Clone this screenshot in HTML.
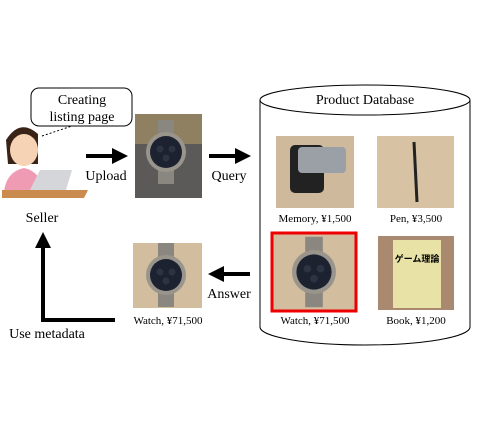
<!DOCTYPE html>
<html><head><meta charset="utf-8"><style>
body{margin:0;width:480px;height:426px;background:#fff;overflow:hidden;font-family:"Liberation Serif","Noto Serif CJK SC",serif;}
</style></head><body>
<svg width="480" height="426" viewBox="0 0 480 426" xmlns="http://www.w3.org/2000/svg" font-family="Liberation Serif, serif">
<defs>
<marker id="ah" markerWidth="4" markerHeight="4" refX="2" refY="2" orient="auto" markerUnits="strokeWidth"><path d="M0,0 L4,2 L0,4Z" fill="#000"/></marker>
<g id="watch">
 <rect x="-8" y="-32" width="16" height="64" fill="#8a8680"/>
 <circle r="20" fill="#9a958c"/><circle r="16" fill="#1c2230"/>
 <circle cx="-6" cy="-3" r="3.5" fill="#2c3342"/><circle cx="6" cy="-3" r="3.5" fill="#2c3342"/><circle cx="0" cy="6" r="3.5" fill="#2c3342"/>
</g>
</defs>
<!-- speech bubble -->
<rect x="31" y="88" width="101" height="38" rx="8" fill="#fff" stroke="#000" stroke-width="1"/>
<line x1="42" y1="136" x2="72" y2="126" stroke="#000" stroke-dasharray="2,2"/>
<text x="82" y="104" font-size="14" text-anchor="middle">Creating</text>
<text x="82" y="121" font-size="14" text-anchor="middle">listing page</text>
<!-- seller -->
<path d="M6,140 q14,-22 32,-6 v30 h-30z" fill="#3a2418"/>
<ellipse cx="24" cy="150" rx="14" ry="16" fill="#f6d3b4"/>
<path d="M4,192 q2,-20 20,-24 q18,4 18,24z" fill="#ef9bb3"/>
<path d="M30,190 l10,-20 h32 l-6,20z" fill="#d4d6da"/>
<path d="M2,190 h86 l-4,8 h-82z" fill="#c98b4e"/>
<text x="42" y="222" font-size="14" text-anchor="middle">Seller</text>
<!-- arrows top -->
<line x1="86" y1="156" x2="120" y2="156" stroke="#000" stroke-width="4" marker-end="url(#ah)"/>
<text x="106" y="180" font-size="14" text-anchor="middle">Upload</text>
<line x1="209" y1="156" x2="243" y2="156" stroke="#000" stroke-width="4" marker-end="url(#ah)"/>
<text x="229" y="180" font-size="14" text-anchor="middle">Query</text>
<!-- uploaded watch -->
<rect x="135" y="114" width="67" height="84" fill="#5b5a58"/>
<rect x="135" y="114" width="67" height="30" fill="#8e8060"/>
<use href="#watch" x="166" y="152"/>
<!-- database -->
<path d="M260,100 V327 A105,18 0 0 0 470,327 V100" fill="#fff" stroke="#000"/>
<ellipse cx="365" cy="100" rx="105" ry="15" fill="#fff" stroke="#000"/>
<text x="365" y="104" font-size="14" text-anchor="middle">Product Database</text>
<!-- memory -->
<rect x="276" y="136" width="78" height="72" fill="#cfb99c"/>
<rect x="290" y="145" width="34" height="48" rx="5" fill="#222"/>
<rect x="298" y="147" width="48" height="26" rx="4" fill="#9aa0a6"/>
<text x="315" y="222" font-size="11" text-anchor="middle">Memory, ¥1,500</text>
<!-- pen -->
<rect x="377" y="136" width="77" height="72" fill="#d7c3a3"/>
<line x1="414" y1="142" x2="417" y2="202" stroke="#222" stroke-width="3"/>
<text x="416" y="222" font-size="11" text-anchor="middle">Pen, ¥3,500</text>
<!-- watch db -->
<rect x="272" y="233" width="84" height="78" fill="#d3bd9f" stroke="#e00" stroke-width="3"/>
<use href="#watch" x="314" y="272" transform="translate(314,272) scale(1.1) translate(-314,-272)"/>
<text x="315" y="324" font-size="11" text-anchor="middle">Watch, ¥71,500</text>
<!-- book -->
<rect x="378" y="236" width="76" height="74" fill="#a98970"/>
<rect x="393" y="240" width="48" height="68" fill="#e8e2a6"/>
<text x="417" y="262" font-size="9" text-anchor="middle" font-family="Noto Sans CJK JP, sans-serif" font-weight="bold">ゲーム理論</text>
<text x="416" y="324" font-size="11" text-anchor="middle">Book, ¥1,200</text>
<!-- answer -->
<line x1="250" y1="274" x2="216" y2="274" stroke="#000" stroke-width="4" marker-end="url(#ah)"/>
<text x="229" y="298" font-size="14" text-anchor="middle">Answer</text>
<rect x="133" y="243" width="69" height="65" fill="#d3bd9f"/>
<use href="#watch" x="166" y="275"/>
<text x="168" y="324" font-size="11" text-anchor="middle">Watch, ¥71,500</text>
<!-- use metadata -->
<polyline points="115,320 43,320 43,240" fill="none" stroke="#000" stroke-width="4" marker-end="url(#ah)"/>
<text x="47" y="338" font-size="14" text-anchor="middle">Use metadata</text>
</svg>
</body></html>
